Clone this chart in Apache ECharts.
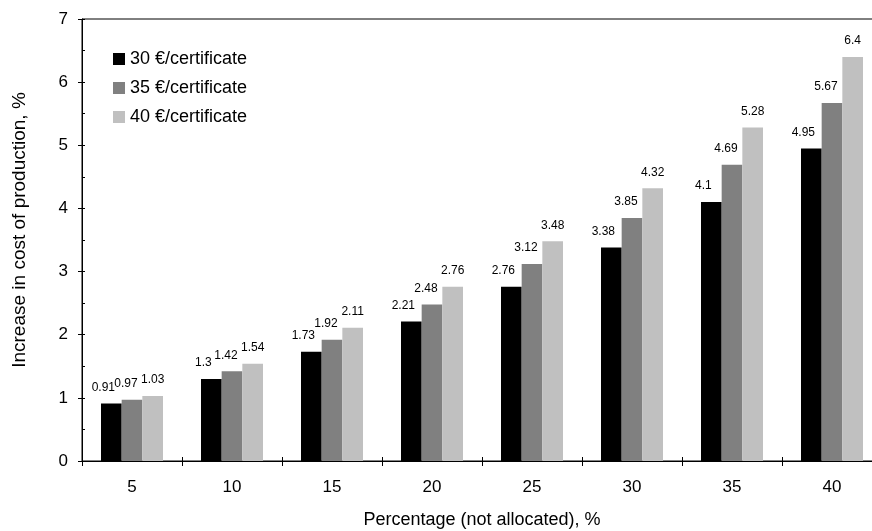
<!DOCTYPE html>
<html>
<head>
<meta charset="utf-8">
<script src="https://cdn.jsdelivr.net/npm/echarts@6/dist/echarts.min.js"></script>
<style>
html,body{margin:0;padding:0;background:#fff;overflow:hidden;width:872px;height:531px;}
#chart{width:900px;height:531px;}
</style>
</head>
<body>
<div id="chart"></div>
<script>
const categories = ['5', '10', '15', '20', '25', '30', '35', '40'];
const seriesNames = ['30 €/certificate', '35 €/certificate', '40 €/certificate'];
const values30 = [0.91, 1.3, 1.73, 2.21, 2.76, 3.38, 4.1, 4.95];
const values35 = [0.97, 1.42, 1.92, 2.48, 3.12, 3.85, 4.69, 5.67];
const values40 = [1.03, 1.54, 2.11, 2.76, 3.48, 4.32, 5.28, 6.4];
const yMin = 0, yMax = 7, yStep = 1;
const xTitle = 'Percentage (not allocated), %';
const yTitle = 'Increase in cost of production, %';

const FONT = '"Liberation Sans", Arial, sans-serif';
const colors = ['#000000', '#808080', '#c0c0c0'];
const labelOffsets = [[-8, 0], [-6, 0], [0, 0]];
const allValues = [values30, values35, values40];

const chart = echarts.init(document.getElementById('chart'), null, {renderer: 'canvas', width: 900, height: 531});
const option = {
  animation: false,
  backgroundColor: '#ffffff',
  textStyle: {fontFamily: FONT, color: '#000'},
  grid: {
    left: 82, top: 19, width: 800, height: 442,
    show: true, borderColor: '#000', borderWidth: 1, backgroundColor: 'transparent'
  },
  legend: {
    orient: 'vertical', left: 108, top: 45,
    itemWidth: 12, itemHeight: 12, itemGap: 11,
    icon: 'rect',
    textStyle: {fontFamily: FONT, fontSize: 18, color: '#000'},
    data: seriesNames
  },
  xAxis: [{
    type: 'category', data: categories, position: 'bottom',
    axisLine: {show: true, lineStyle: {color: '#000', width: 1}},
    axisTick: {show: true, inside: false, length: 5, lineStyle: {color: '#000'}},
    axisLabel: {fontFamily: FONT, fontSize: 17, color: '#000', margin: 18},
    splitLine: {show: false}
  }, {
    type: 'category', data: categories, position: 'bottom',
    axisLine: {show: false},
    axisTick: {show: true, inside: true, length: 4, lineStyle: {color: '#000'}},
    axisLabel: {show: false},
    splitLine: {show: false}
  }],
  yAxis: [{
    type: 'value', min: yMin, max: yMax, interval: yStep, position: 'left',
    axisLine: {show: true, lineStyle: {color: '#000', width: 1}},
    axisTick: {show: true, inside: false, length: 4, lineStyle: {color: '#000'}},
    axisLabel: {fontFamily: FONT, fontSize: 17, color: '#000', margin: 14},
    splitLine: {show: false}
  }, {
    type: 'value', min: yMin, max: yMax, interval: yStep / 2, position: 'left',
    axisLine: {show: false},
    axisTick: {show: true, inside: true, length: 3, lineStyle: {color: '#000'}},
    axisLabel: {show: false},
    splitLine: {show: false}
  }],
  graphic: [{
    type: 'text', x: 482, y: 520,
    style: {text: xTitle, textAlign: 'center', textVerticalAlign: 'middle', font: '18px ' + FONT, fill: '#000'}
  }, {
    type: 'text', x: 20, y: 230, rotation: Math.PI / 2,
    style: {text: yTitle, textAlign: 'center', textVerticalAlign: 'middle', font: '19px ' + FONT, fill: '#000'}
  }],
  series: seriesNames.map((name, i) => ({
    name: name,
    type: 'bar',
    xAxisIndex: 0, yAxisIndex: 0,
    data: allValues[i],
    barGap: '0%',
    barCategoryGap: '38%',
    itemStyle: {color: colors[i]},
    label: {
      show: true, position: 'top', distance: 10,
      offset: labelOffsets[i],
      fontFamily: FONT, fontSize: 12, color: '#000'
    }
  }))
};
chart.setOption(option);
</script>
</body>
</html>
